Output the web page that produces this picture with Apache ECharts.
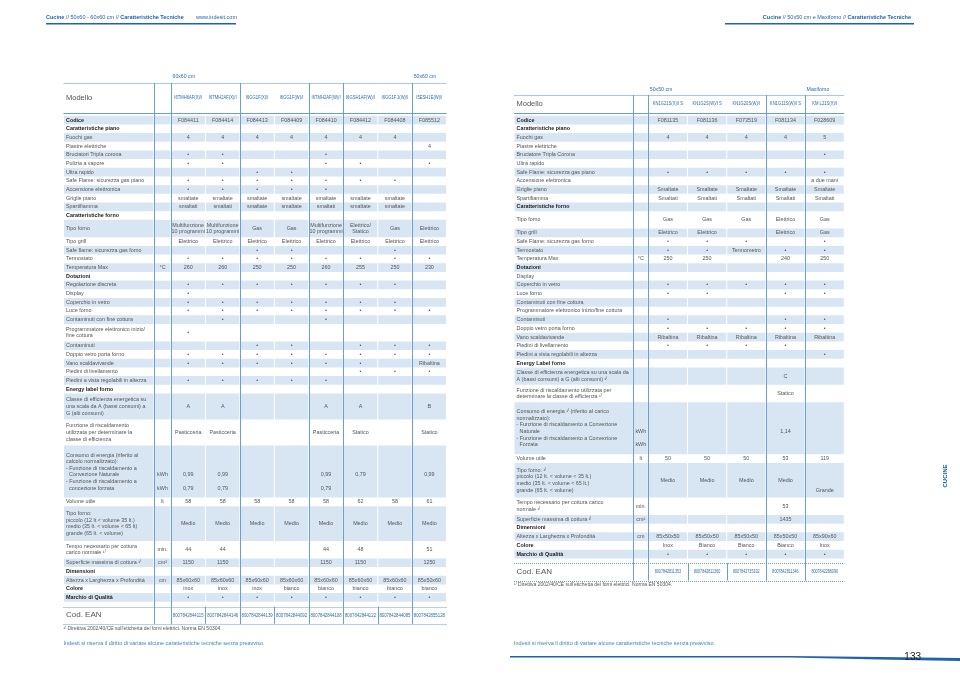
<!DOCTYPE html>
<html><head><meta charset="utf-8">
<script src="https://cdn.jsdelivr.net/npm/echarts@6.0.0/dist/echarts.min.js"></script>
<style>html,body{margin:0;padding:0;background:#fff}#chart{width:960px;height:679px}</style>
</head><body><div id="chart"></div>
<script>
const B = '•';
// ================= LEFT TABLE DATA =================
const leftGroups = ['60x60 cm','','','','','','','50x60 cm'];
const leftModels = ['I6TMH6AF(X)/I','I6TMH2AF(X)/I','I6GG1F(X)/I','I6GG1F(W)/I','I6TMH2AF(W)/I','I6GSH1AF(W)/I','I6GG1F.1(W)/I','I5ESH1E(W)/I'];
const leftLabels = [
 'Codice','Caratteristiche piano','Fuochi gas','Piastre elettriche','Bruciatori Tripla corona','Pulizia a vapore','Ultra rapido',
 'Safe Flame: sicurezza gas piano','Accensione elettronica','Griglie piano','Spartifiamma','Caratteristiche forno','Tipo forno','Tipo grill',
 'Safe flame: sicurezza gas forno','Termostato','Temperatura Max','Dotazioni','Regolazione discreta','Display','Coperchio in vetro','Luce forno',
 'Contaminuti con fine cottura','Programmatore elettronico inizio/\nfine cottura','Contaminuti','Doppio vetro porta forno','Vano scaldavivande',
 'Piedini di livellamento','Piedini a vista regolabili in altezza','Energy label forno',
 'Classe di efficienza energetica su\nuna scala da A (bassi consumi) a\nG (alti consumi)',
 'Funzione di riscaldamento\nutilizzata per determinare la\nclasse di efficienza',
 'Consumo di energia (riferito al\ncalcolo normalizzato):\n- Funzione di riscaldamento a\n  Convezione Naturale\n- Funzione di riscaldamento a\n  concezione forzata',
 'Volume utile',
 'Tipo forno:\npiccolo (12 lt.< volume 35 lt.)\nmedio (35 lt. < volume < 65 lt)\ngrande (65 lt. < volume)',
 'Tempo necessario per cottura\ncarico normale ¹⁾','Superficie massima di cottura ¹⁾','Dimensioni','Altezza x Larghezza x Profondità','Colore','Marchio di Qualità'
];
const leftUnits = ['','','','','','','','','','','','','','','','','°C','','','','','','','','','','','','','','','','\n\n\nkWh\n\nkWh','lt','','min.','cm²','','cm','',''];
const leftValues = [
 ['F084411','F084414','F084413','F084409','F084410','F084412','F084408','F085512'],
 [],
 ['4','4','4','4','4','4','4',''],
 ['','','','','','','','4'],
 [B,B,'','',B,'','',''],
 [B,B,'','',B,B,'',B],
 ['','',B,B,'','','',''],
 [B,B,B,B,B,B,B,''],
 [B,B,B,B,B,'','',''],
 ['smaltate','smaltate','smaltate','smaltate','smaltate','smaltate','smaltate',''],
 ['smaltati','smaltati','smaltate','smaltate','smaltati','smaltate','smaltate',''],
 [],
 ['Multifunzione\n10 programmi','Multifunzione\n10 programmi','Gas','Gas','Multifunzione\n10 programmi','Elettrico/\nStatico','Gas','Elettrico'],
 ['Elettrico','Elettrico','Elettrico','Elettrico','Elettrico','Elettrico','Elettrico','Elettrico'],
 ['','',B,B,'','',B,''],
 [B,B,B,B,B,B,B,B],
 ['260','260','250','250','260','255','250','230'],
 [],
 [B,B,B,B,B,B,B,''],
 [B,'','','','','','',''],
 [B,B,B,B,B,B,B,''],
 [B,B,B,B,B,B,B,B],
 ['',B,'','',B,'','',''],
 [B,'','','','','','',''],
 ['','',B,B,'',B,B,B],
 [B,B,B,B,B,B,B,B],
 [B,B,B,B,B,B,'','Ribaltina'],
 ['','','','','',B,B,B],
 [B,B,B,B,B,'','',''],
 [],
 ['A','A','','','A','A','','B'],
 ['Pasticceria','Pasticceria','','','Pasticceria','Statico','','Statico'],
 ['\n\n\n0,99\n\n0,79','\n\n\n0,99\n\n0,79','','','\n\n\n0,99\n\n0,79','\n\n\n0,79\n\n','','\n\n\n0,99\n\n'],
 ['58','58','58','58','58','62','58','61'],
 ['Medio','Medio','Medio','Medio','Medio','Medio','Medio','Medio'],
 ['44','44','','','44','48','','51'],
 ['1150','1150','','','1150','1150','','1250'],
 [],
 ['85x60x60','85x60x60','85x60x60','85x60x60','85x60x60','85x60x60','85x60x60','85x50x60'],
 ['inox','inox','inox','bianco','bianco','bianco','bianco','bianco'],
 [B,B,B,B,B,B,B,B]
];
const leftEAN = ['8007842844115','8007842844146','8007842844139','8007842844092','8007842844108','8007842844122','8007842844085','8007842855128'];

// ================= RIGHT TABLE DATA =================
const rightGroups = ['50x50 cm','','','','Maxiforno'];
const rightModels = ['KN1G21S(X)/I S','KN1G2S(W)/I S','KN1G20S(W)/I','KN1G11S(W)/I S','KM L21S(X)/I'];
const rightLabels = [
 'Codice','Caratteristiche piano','Fuochi gas','Piastre elettriche','Bruciatore Tripla Corona','Ultra rapido','Safe Flame: sicurezza gas piano',
 'Accensione elettronica','Griglie piano','Spartifiamma','Caratteristiche forno','Tipo forno','Tipo grill','Safe Flame: sicurezza gas forno',
 'Termostato','Temperatura Max','Dotazioni','Display','Coperchio in vetro','Luce forno','Contaminuti con fine cottura',
 'Programmatore elettronico inizio/fine cottura','Contaminuti','Doppio vetro porta forno','Vano scaldavivande','Piedini di livellamento',
 'Piedini a vista regolabili in altezza','Energy Label forno',
 'Classe di efficienza energetica su una scala da\nA (bassi consumi) a G (alti consumi) ¹⁾',
 'Funzione di riscaldamento utilizzata per\ndeterminare la classe di efficienza ¹⁾',
 'Consumo di energia ¹⁾ (riferito al carico\nnormalizzato):\n- Funzione di riscaldamento a Convezione\n  Naturale\n- Funzione di riscaldamento a Convezione\n  Forzata',
 'Volume utile',
 'Tipo forno: ¹⁾\npiccolo (12 lt. < volume < 35 lt.)\nmedio (35 lt. < volume < 65 lt.)\ngrande (65 lt. < volume)',
 'Tempo necessario per cottura carico\nnormale ¹⁾','Superficie massima di cottura ¹⁾','Dimensioni','Altezza x Larghezza x Profondità','Colore','Marchio di Qualità'
];
const rightUnits = ['','','','','','','','','','','','','','','','°C','','','','','','','','','','','','','','','\n\n\nkWh\n\nkWh','lt','','min.','cm²','','cm','',''];
const rightValues = [
 ['F081135','F081136','F073519','F081134','F028609'],
 [],
 ['4','4','4','4','5'],
 [],
 ['','','','',B],
 [],
 [B,B,B,B,B],
 ['','','','','a due mani'],
 ['Smaltate','Smaltate','Smaltate','Smaltate','Smaltate'],
 ['Smaltati','Smaltati','Smaltati','Smaltati','Smaltati'],
 [],
 ['Gas','Gas','Gas','Elettrico','Gas'],
 ['Elettrico','Elettrico','','Elettrico','Gas'],
 [B,B,B,'',B],
 [B,B,'Termometro',B,B],
 ['250','250','','240','250'],
 [],
 [],
 [B,B,B,B,B],
 [B,B,'',B,B],
 [],
 [],
 [B,'','',B,B],
 [B,B,B,B,B],
 ['Ribaltina','Ribaltina','Ribaltina','Ribaltina','Ribaltina'],
 [B,B,B,B,''],
 ['','','','',B],
 [],
 ['','','','C',''],
 ['','','','Statico',''],
 ['','','','\n\n\n1,14\n\n',''],
 ['50','50','50','53','119'],
 ['Medio','Medio','Medio','Medio','\n\n\nGrande'],
 ['','','','53',''],
 ['','','','1435',''],
 [],
 ['85x50x50','85x50x50','85x50x50','85x50x50','85x90x60'],
 ['Inox','Bianco','Bianco','Bianco','Inox'],
 [B,B,B,B,B]
];
const rightEAN = ['8007842811353','8007842811360','8007842735192','8007842811346','8007842286090'];

const footnoteText = '¹⁾ Direttiva 2002/40/CE sull\'etichetta dei forni elettrici. Norma EN 50304.';
const disclaimerText = 'Indesit si riserva il diritto di variare alcune caratteristiche tecniche senza preavviso.';
const pageNumber = '133';
const sideTab = 'CUCINE';

// ================= STYLE / LAYOUT =================
const U = 8.68, Y0 = 115.7;
const FONT = '"Liberation Sans", Arial, sans-serif';
const FS = 5.4;
const S = {shade:'#d8e6f3', vline:'#6a9fd2', light:'#a9c8e6', text:'#555555', dark:'#1c1c1c', blue:'#2a6cb2'};
const boldLabels = ['Codice','Caratteristiche piano','Caratteristiche forno','Dotazioni','Energy label forno','Energy Label forno','Dimensioni','Colore','Marchio di Qualità'];

const tables = [
 {groups:leftGroups, models:leftModels, labels:leftLabels, units:leftUnits, values:leftValues, ean:leftEAN,
  left:63.5, colW:[90.5,17,34.45,34.45,34.45,34.45,34.45,34.45,34.45,34.45], seps:[1,2,4,6,7,9], minLines:{},
  head:{gTop:-5.1, mTop:-3.77, mEnd:-0.31}, modelFont:5.2, modelScale:0.8, eanFont:5, eanScale:0.86},
 {groups:rightGroups, models:rightModels, labels:rightLabels, units:rightUnits, values:rightValues, ean:rightEAN,
  left:514, colW:[119.3,15,39.2,39.2,39.2,39.2,39.2], seps:[1,2,5,6], minLines:{11:2},
  head:{gTop:-3.6, mTop:-2.38, mEnd:-0.31}, modelFont:5.2, modelScale:0.8, eanFont:4.6, eanScale:0.8}
];

const nl = s => String(s).split('\n').length;
tables.forEach(t => {
  const rows = [];
  rows.push({kind:'group', start:t.head.gTop, end:t.head.mTop - 0.15});
  rows.push({kind:'model', start:t.head.mTop, end:t.head.mEnd});
  let acc = 0;
  t.labels.forEach((lab, i) => {
    const n = Math.max(nl(lab), nl(t.units[i]), ...t.values[i].map(nl), t.minLines[i] || 1);
    rows.push({kind:'body', i, start:acc, end:acc + n});
    acc += n;
  });
  const es = acc + 0.55;
  rows.push({kind:'ean', start:es, end:es + 2});
  t.rows = rows; t.yMin = t.head.gTop; t.yMax = es + 2;
  t.bounds = [0];
  t.colW.forEach(w => t.bounds.push(t.bounds[t.bounds.length - 1] + w));
});

function txt(s, x, y, align, font, fill, sx) {
  return {type:'text', silent:true, x:x, y:y, scaleX: sx || 1,
    style:{text:s, x:0, y:0, font:font, fill:fill, align:align, verticalAlign:'middle',
    textAlign:align, textVerticalAlign:'middle', lineHeight:6.6}};
}
function ln(x1, y1, x2, y2, stroke, w, dash) {
  return {type:'line', silent:true, shape:{x1, y1, x2, y2}, style:{stroke, lineWidth:w, lineDash:dash || null}};
}

function rowRenderer(t) {
  return function (params, api) {
    const r = t.rows[api.value(3)];
    const y0 = api.coord([0, api.value(1)])[1], y1 = api.coord([0, api.value(2)])[1];
    const xs = t.bounds.map(b => api.coord([b, 0])[0]);
    const yc = (y0 + y1) / 2, xL = xs[0], xR = xs[xs.length - 1];
    const ch = [];
    const mid = c => (xs[c] + xs[c + 1]) / 2;
    if (r.kind === 'group') {
      t.groups.forEach((g, c) => { if (g) ch.push(txt(g, xs[c + 2] + 1.5, yc, 'left', '5.2px ' + FONT, S.blue)); });
    } else if (r.kind === 'model') {
      ch.push(ln(xL, Math.round(y0) + 0.5, xR, Math.round(y0) + 0.5, S.light, 1));
      ch.push(ln(xL, Math.round(y1) + 0.5, xR, Math.round(y1) + 0.5, S.vline, 1));
      ch.push(txt('Modello', xL + 2.5, yc, 'left', '7.5px ' + FONT, S.text));
      t.models.forEach((m, c) => ch.push(txt(m, mid(c + 2), yc, 'center', t.modelFont + 'px ' + FONT, S.blue, t.modelScale)));
    } else if (r.kind === 'body') {
      const i = r.i;
      if (i % 2 === 0) {
        for (let c = 0; c < xs.length - 1; c++) {
          ch.push({type:'rect', silent:true, shape:{x:xs[c] + 0.5, y:y0, width:xs[c + 1] - xs[c] - 1, height:y1 - y0}, style:{fill:S.shade}});
        }
      }
      const bold = boldLabels.indexOf(t.labels[i]) >= 0;
      ch.push(txt(t.labels[i], xL + 2.5, yc, 'left', (bold ? 'bold ' : '') + FS + 'px ' + FONT, bold ? S.dark : S.text));
      if (t.units[i]) ch.push(txt(t.units[i], mid(1), yc, 'center', FS + 'px ' + FONT, S.text));
      t.values[i].forEach((v, c) => { if (v) ch.push(txt(v, mid(c + 2), yc, 'center', FS + 'px ' + FONT, S.text)); });
    } else if (r.kind === 'ean') {
      ch.push(ln(xL, Math.round(y0) + 0.5, xR, Math.round(y0) + 0.5, S.vline, 1, [1, 1]));
      ch.push(ln(xL, Math.round(y1) + 0.5, xR, Math.round(y1) + 0.5, S.vline, 1, [1, 1]));
      for (let c = 3; c < xs.length - 1; c++) ch.push(ln(Math.round(xs[c]) + 0.5, y0, Math.round(xs[c]) + 0.5, y1, S.vline, 1));
      ch.push(txt('Cod. EAN', xL + 2.5, yc, 'left', '8px ' + FONT, S.text));
      t.ean.forEach((e, c) => ch.push(txt(e, mid(c + 2), yc, 'center', t.eanFont + 'px ' + FONT, S.blue, t.eanScale)));
    }
    return {type:'group', children:ch};
  };
}

function sepRenderer(t) {
  return function (params, api) {
    const p0 = api.coord([api.value(0), api.value(1)]);
    const p1 = api.coord([api.value(0), api.value(2)]);
    const x = Math.round(p0[0]) + 0.5;
    return ln(x, p0[1], x, p1[1], S.vline, 1);
  };
}

const grid = [], xAxis = [], yAxis = [], series = [];
tables.forEach((t, k) => {
  const W = t.bounds[t.bounds.length - 1];
  grid.push({left:t.left, top:Y0 + t.yMin * U, width:W, height:(t.yMax - t.yMin) * U, containLabel:false});
  xAxis.push({type:'value', gridIndex:k, min:0, max:W, show:false});
  yAxis.push({type:'value', gridIndex:k, min:t.yMin, max:t.yMax, inverse:true, show:false});
  series.push({type:'custom', xAxisIndex:k, yAxisIndex:k, silent:true, animation:false, clip:false, z:2,
    encode:{x:0, y:[1, 2]}, data:t.rows.map((r, j) => [0, r.start, r.end, j]), renderItem:rowRenderer(t)});
  series.push({type:'custom', xAxisIndex:k, yAxisIndex:k, silent:true, animation:false, clip:false, z:3,
    encode:{x:0, y:[1, 2]}, data:t.seps.map(s => [t.bounds[s], t.head.mTop, t.yMax]), renderItem:sepRenderer(t)});
});

const blue = '#1f63aa';
const graphic = [
  {type:'text', x:46, y:17, style:{text:'{b|Cucine} // 50x60 - 60x60 cm // {b|Caratteristiche Tecniche}', fill:blue, font:'5.5px ' + FONT, verticalAlign:'middle',
    rich:{b:{fontWeight:'bold', fontSize:5.5, fill:blue, fontFamily:'Liberation Sans'}}}},
  {type:'text', x:196, y:17, style:{text:'www.indesit.com', fill:blue, font:'5.5px ' + FONT, verticalAlign:'middle'}},
  {type:'rect', shape:{x:46, y:23, width:190, height:1.5}, style:{fill:blue}},
  {type:'text', x:911, y:17, style:{text:'{b|Cucine} // 50x50 cm e Maxiforno // {b|Caratteristiche Tecniche}', fill:blue, font:'5.5px ' + FONT, align:'right', verticalAlign:'middle',
    rich:{b:{fontWeight:'bold', fontSize:5.5, fill:blue, fontFamily:'Liberation Sans'}}}},
  {type:'rect', shape:{x:725, y:23, width:189, height:1.5}, style:{fill:blue}},
  {type:'text', x:63.5, y:629, style:{text:footnoteText, fill:'#555', font:'5px ' + FONT, verticalAlign:'middle'}},
  {type:'text', x:514, y:585, style:{text:footnoteText, fill:'#555', font:'5px ' + FONT, verticalAlign:'middle'}},
  {type:'text', x:63.5, y:643, style:{text:disclaimerText, fill:'#3a86c8', font:'5.5px ' + FONT, verticalAlign:'middle'}},
  {type:'text', x:514, y:643, style:{text:disclaimerText, fill:'#3a86c8', font:'5.5px ' + FONT, verticalAlign:'middle'}},
  {type:'polygon', shape:{points:[[510,656],[790,656],[880,657],[960,658],[960,661],[880,659.5],[790,657.5],[510,657.5]]}, style:{fill:blue}},
  {type:'text', x:921, y:657, style:{text:pageNumber, fill:'#222', font:'10px ' + FONT, align:'right', verticalAlign:'middle'}},
  {type:'text', x:945, y:476, rotation:Math.PI / 2, style:{text:sideTab, fill:blue, font:'bold 6px ' + FONT, align:'center', verticalAlign:'middle'}}
];

const chart = echarts.init(document.getElementById('chart'), null, {renderer:'canvas'});
chart.setOption({animation:false, backgroundColor:'#ffffff', grid, xAxis, yAxis, series, graphic});
</script>
</body></html>
